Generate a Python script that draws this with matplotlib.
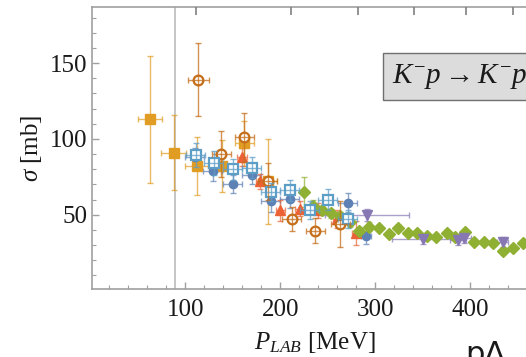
import matplotlib.pyplot as plt
import numpy as np

plt.rcParams['font.family'] = ['Liberation Serif', 'DejaVu Serif']
plt.rcParams['mathtext.fontset'] = 'custom'
plt.rcParams['mathtext.rm'] = 'Liberation Serif'
plt.rcParams['mathtext.it'] = 'Liberation Serif:italic'
plt.rcParams['mathtext.bf'] = 'Liberation Serif:bold'

# K- p elastic cross section, several experiments
orange_x = [63, 88, 112, 139, 162, 187]
orange_y = [113, 91, 82, 82, 97, 72]
orange_xerr = [13, 13, 12, 10, 10, 10]
orange_yerr = [42, 25, 19, 17, 15, 28]

dkorange_x = [114, 138, 162, 187, 212, 237, 263]
dkorange_y = [139, 90, 101, 72, 47, 39.5, 44]
dkorange_xerr = [11, 10, 10, 10, 10, 10, 10]
dkorange_yerr = [24, 15, 16, 12, 8, 8, 15]

red_x = [160, 179, 200, 221, 240, 260, 280]
red_y = [88, 72, 53, 54, 53, 47, 38]
red_xerr = [5, 5, 5, 5, 5, 5, 5]
red_yerr = [6, 5, 7, 5, 5, 6, 8]

blue_x = [110, 129, 150, 170, 190, 210, 271, 290]
blue_y = [88, 79, 70, 76, 59, 60.5, 58, 36]
blue_xerr = [10, 10, 10, 10, 10, 10, 10, 5]
blue_yerr = [6, 7, 6, 6, 7, 6, 6, 5]

ltblue_x = [111, 130, 150, 170, 190, 210, 231, 250, 271]
ltblue_y = [89.5, 84, 80, 81, 65, 66, 53, 60, 47]
ltblue_xerr = [10, 10, 10, 10, 10, 10, 10, 10, 10]
ltblue_yerr = [8, 8, 7, 7, 6, 7, 6, 7, 6]

green_x = [225, 234, 244, 253, 263, 273, 283, 293, 304, 314, 324, 334,
           344, 354, 364, 375, 384, 394, 404, 414, 424, 434, 445, 455]
green_y = [65, 56, 53, 51, 49, 45, 39, 42, 41, 37.5, 41, 38,
           38, 36, 35.5, 38, 35, 38.5, 32, 32, 31.6, 26, 28, 31.5]
green_yerr = [10, 4, 3, 3, 3, 3, 3, 3, 2, 2, 2, 2,
              2, 2, 2, 2, 2, 2, 2, 2, 2, 2, 2, 2]

purple_x = [291, 350, 387, 393, 434]
purple_y = [50, 34, 33, 34.5, 32]
purple_xerr = [44, 33, 8, 8, 6]
purple_yerr = [4, 3, 3, 3, 3]

threshold = 89  # K0bar n opening
sqrts_ticks = [1440, 1460, 1480, 1500, 1520, 1540]

MK = 493.677
MP = 938.272


def sqrts_to_p(w):
    w = np.asarray(w, dtype=float)
    e = (w**2 - MK**2 - MP**2) / (2 * MP)
    return np.sqrt(np.clip(e**2 - MK**2, 0, None))


fig = plt.figure(figsize=(5.26, 3.57), dpi=100)
ax = fig.add_axes([92 / 526, 68 / 357, 445 / 526, 282 / 357])

ax.axvline(threshold, color='#c0c0c0', lw=1.3, zorder=1)


def draw(x, y, xerr, yerr, color, marker, ms, open_=False):
    if open_:
        ax.plot(x, y, ls='none', marker=marker, ms=ms, mfc='white',
                mec=color, mew=1.6, zorder=3)
        ax.errorbar(x, y, xerr=xerr, yerr=yerr, fmt='none', ecolor=color,
                    elinewidth=1.0, capsize=2.5, alpha=0.75, zorder=4)
    else:
        ax.errorbar(x, y, xerr=xerr, yerr=yerr, fmt='none', ecolor=color,
                    elinewidth=1.0, capsize=2.5, alpha=0.7, zorder=2)
        ax.plot(x, y, ls='none', marker=marker, ms=ms, color=color,
                mec=color, zorder=3)


draw(orange_x, orange_y, orange_xerr, orange_yerr, '#E19C24', 's', 7)
draw(blue_x, blue_y, blue_xerr, blue_yerr, '#5E81B5', 'o', 6)
draw(red_x, red_y, red_xerr, red_yerr, '#EB6235', '^', 7)
draw(green_x, green_y, 0, green_yerr, '#8FB032', 'D', 6.5)
draw(purple_x, purple_y, purple_xerr, purple_yerr, '#8778B3', 'v', 7)
draw(dkorange_x, dkorange_y, dkorange_xerr, dkorange_yerr, '#C56E1A', 'o', 7, open_=True)
draw(ltblue_x, ltblue_y, ltblue_xerr, ltblue_yerr, '#5D9EC7', 's', 7, open_=True)

ax.set_xlim(2, 470)
ax.set_ylim(1, 187)
ax.set_xticks([100, 200, 300, 400])
ax.set_xticks(np.arange(20, 470, 20), minor=True)
ax.set_yticks([50, 100, 150])
ax.set_yticks(np.arange(10, 187, 10), minor=True)

frame = '#a0a0a0'
for s in ax.spines.values():
    s.set_color(frame)
    s.set_linewidth(1.2)
ax.tick_params(which='both', direction='in', color=frame, labelsize=18,
               labelcolor='#1a1a1a', top=False, right=False)
ax.tick_params(which='major', length=5, width=1)
ax.tick_params(which='minor', length=3, width=0.8)
ax.tick_params(axis='x', pad=7)

# sqrt(s) ticks along the top edge
top = ax.twiny()
top.set_xlim(ax.get_xlim())
top.set_xticks(sqrts_to_p(sqrts_ticks))
top.set_xticklabels([])
top.tick_params(axis='x', which='major', direction='in', length=6, width=1.2,
                color='#808080')
for s in top.spines.values():
    s.set_visible(False)

ax.set_xlabel('$P_{LAB}$ [MeV]', fontsize=18, color='#1a1a1a', labelpad=7)
ax.set_ylabel(r'$\sigma$ [mb]', fontsize=18, color='#1a1a1a', labelpad=4)

ax.text(0.674, 0.73, r'$K^{-}p \rightarrow K^{-}p$', transform=ax.transAxes,
        fontsize=21, va='baseline', ha='left', color='#1a1a1a', zorder=10,
        bbox=dict(boxstyle='square,pad=0.3', fc='#dcdcdc', ec='#707070', lw=1))

fig.text(465 / 526, 1 - 340 / 357, 'pΛ', family='DejaVu Sans', fontsize=22,
         va='top', ha='left', color='#1a1a1a')

fig.savefig('out.png', dpi=100)
